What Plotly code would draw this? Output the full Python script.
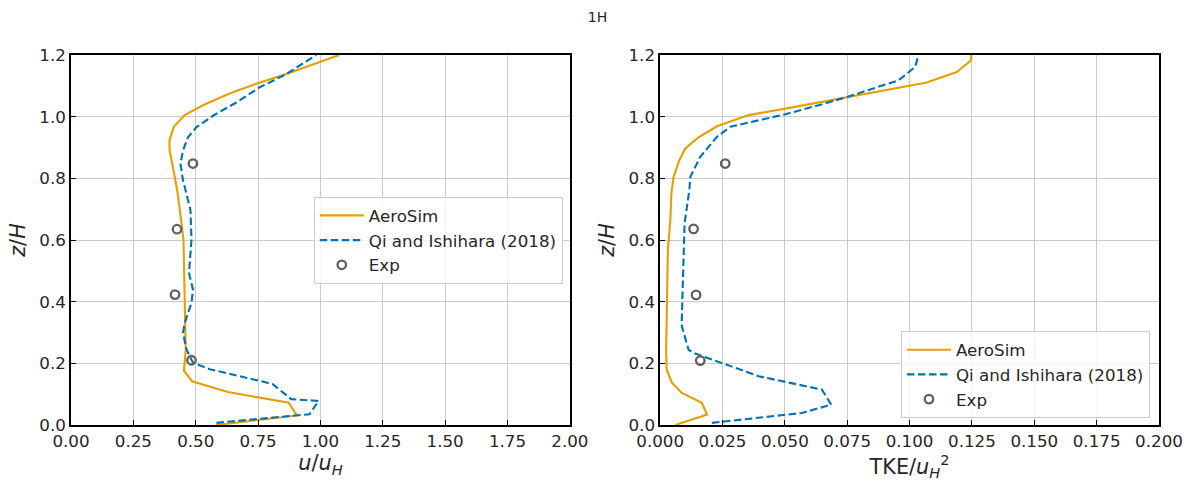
import plotly.graph_objects as go

# ---------------- data ----------------
# Left panel: mean streamwise velocity u/u_H vs z/H
z_aero_u = [0.0, 0.031, 0.072, 0.107, 0.142, 0.176, 0.244, 0.35, 0.45, 0.55, 0.60, 0.655,
            0.75, 0.805, 0.85, 0.892, 0.924, 0.967, 1.005, 1.037, 1.075, 1.107, 1.14, 1.177, 1.2]
u_aero = [0.583, 0.905, 0.873, 0.629, 0.485, 0.453, 0.460, 0.458, 0.456, 0.453, 0.451, 0.443,
          0.428, 0.416, 0.404, 0.395, 0.395, 0.412, 0.456, 0.529, 0.636, 0.743, 0.869, 0.996, 1.075]

z_qi_u = [0.007, 0.035, 0.078, 0.084, 0.132, 0.138, 0.181, 0.202, 0.245, 0.299, 0.331, 0.396,
          0.439, 0.493, 0.6, 0.697, 0.794, 0.847, 0.89, 0.933, 0.966, 1.003, 1.046, 1.095, 1.138, 1.2]
u_qi = [0.583, 0.956, 0.993, 0.883, 0.809, 0.783, 0.556, 0.489, 0.463, 0.449, 0.456, 0.483,
        0.489, 0.473, 0.483, 0.479, 0.449, 0.439, 0.449, 0.469, 0.503, 0.569, 0.663, 0.756, 0.863, 0.983]

z_exp_u = [0.848, 0.635, 0.423, 0.21]
u_exp = [0.489, 0.425, 0.417, 0.483]

# Right panel: TKE/u_H^2 vs z/H
z_aero_k = [0.0, 0.034, 0.072, 0.104, 0.137, 0.18, 0.244, 0.406, 0.568, 0.665, 0.751, 0.805,
            0.859, 0.897, 0.933, 0.969, 1.005, 1.026, 1.062, 1.080, 1.111, 1.145, 1.183, 1.2]
k_aero = [0.0061, 0.0188, 0.0167, 0.0087, 0.0047, 0.0026, 0.0024, 0.0026, 0.0031, 0.0041, 0.0045, 0.0054,
          0.0077, 0.0101, 0.0154, 0.0228, 0.0355, 0.0502, 0.0742, 0.0875, 0.1069, 0.1189, 0.1247, 0.1247]

z_qi_k = [0.007, 0.023, 0.039, 0.066, 0.115, 0.158, 0.196, 0.234, 0.244, 0.32, 0.352, 0.514,
          0.654, 0.762, 0.805, 0.87, 0.935, 0.967, 1.008, 1.037, 1.062, 1.118, 1.161, 1.2]
k_qi = [0.0208, 0.0395, 0.0568, 0.0686, 0.0648, 0.0395, 0.0261, 0.0134, 0.0114, 0.0087, 0.0087, 0.0094,
        0.0098, 0.0117, 0.0121, 0.0161, 0.0228, 0.0281, 0.0502, 0.0635, 0.0742, 0.0956, 0.1022, 0.1036]

z_exp_k = [0.848, 0.636, 0.422, 0.209]
k_exp = [0.0261, 0.0134, 0.0144, 0.0161]

u_ticks = [0.0, 0.25, 0.5, 0.75, 1.0, 1.25, 1.5, 1.75, 2.0]
k_ticks = [0.0, 0.025, 0.05, 0.075, 0.1, 0.125, 0.15, 0.175, 0.2]
z_ticks = [0.0, 0.2, 0.4, 0.6, 0.8, 1.0, 1.2]

# ---------------- styles ----------------
ORANGE = "#E69F00"
BLUE = "#0072B2"
GREY = "#606060"
TXT = "#262626"
FONT = "DejaVu Sans"
DASH = "7.5px,3.5px"

fig = go.Figure()

def add_panel(xa, ya, leg, xs_a, zs_a, xs_q, zs_q, xs_e, zs_e):
    fig.add_trace(go.Scatter(x=xs_a, y=zs_a, mode="lines", name="AeroSim",
                             line=dict(color=ORANGE, width=2.1),
                             xaxis=xa, yaxis=ya, legend=leg, legendgroup=leg + "a"))
    fig.add_trace(go.Scatter(x=xs_q, y=zs_q, mode="lines", name="Qi and Ishihara (2018)",
                             line=dict(color=BLUE, width=2.1, dash=DASH),
                             xaxis=xa, yaxis=ya, legend=leg, legendgroup=leg + "q"))
    fig.add_trace(go.Scatter(x=xs_e, y=zs_e, mode="markers", name="Exp",
                             marker=dict(symbol="circle-open", size=8.5, color=GREY,
                                         line=dict(width=2.3, color=GREY)),
                             xaxis=xa, yaxis=ya, legend=leg, legendgroup=leg + "e"))

add_panel("x", "y", "legend", u_aero, z_aero_u, u_qi, z_qi_u, u_exp, z_exp_u)
add_panel("x2", "y2", "legend2", k_aero, z_aero_k, k_qi, z_qi_k, k_exp, z_exp_k)

axis_common = dict(
    showgrid=True, gridcolor="#cbcbcb", gridwidth=1,
    showline=True, linecolor="black", linewidth=1.5, mirror=True,
    ticks="inside", ticklen=5, tickwidth=1.2, tickcolor="black",
    tickfont=dict(family=FONT, size=16.7, color=TXT),
    zeroline=False,
)

title_font = dict(family=FONT, size=20.8, color=TXT)

legend_common = dict(
    bgcolor="rgba(255,255,255,0.8)", bordercolor="#cccccc", borderwidth=1,
    font=dict(family=FONT, size=16.7, color=TXT),
    tracegroupgap=2, traceorder="normal", itemwidth=44,
)

fig.update_layout(
    width=1195, height=495,
    margin=dict(l=71, r=34, t=55, b=70),
    paper_bgcolor="white", plot_bgcolor="white",
    showlegend=True,
    title=dict(text="1H", xref="container", yref="container", x=0.5, y=1 - 17 / 495,
               xanchor="center", yanchor="middle",
               font=dict(family=FONT, size=14, color=TXT)),
    xaxis=dict(domain=[0, 0.4585], range=[0, 2], anchor="y",
               tickvals=u_ticks, ticktext=[f"{v:.2f}" for v in u_ticks],
               title=dict(text="<i>u</i>/<i>u</i><sub><i>H</i></sub>", font=title_font, standoff=6),
               **axis_common),
    yaxis=dict(domain=[0, 1], range=[0, 1.2], anchor="x",
               tickvals=z_ticks, ticktext=[f"{v:.1f}" for v in z_ticks],
               title=dict(text="<i>z</i>/<i>H</i>", font=title_font, standoff=8),
               **axis_common),
    xaxis2=dict(domain=[0.5415, 1], range=[0, 0.2], anchor="y2",
                tickvals=k_ticks, ticktext=[f"{v:.3f}" for v in k_ticks],
                title=dict(text="TKE/<i>u</i><sub><i>H</i></sub><sup>2</sup>", font=title_font, standoff=6),
                **axis_common),
    yaxis2=dict(domain=[0, 1], range=[0, 1.2], anchor="x2",
                tickvals=z_ticks, ticktext=[f"{v:.1f}" for v in z_ticks],
                title=dict(text="<i>z</i>/<i>H</i>", font=title_font, standoff=8),
                **axis_common),
    legend=dict(x=0.452, y=0.4986, xanchor="right", yanchor="middle", **legend_common),
    legend2=dict(x=0.9917, y=0.018, xanchor="right", yanchor="bottom", **legend_common),
)

fig.write_html("out.html")
